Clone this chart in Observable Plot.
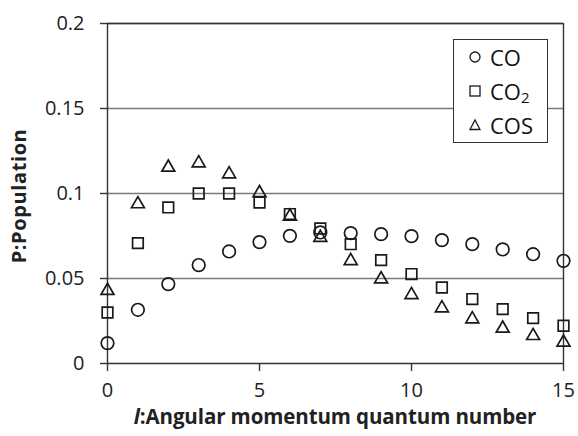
<!DOCTYPE html>
<html>
<head>
<meta charset="utf-8">
<script src="https://cdn.jsdelivr.net/npm/d3@7"></script>
<script src="https://cdn.jsdelivr.net/npm/@observablehq/plot@0.6"></script>
<style>
  html, body { margin: 0; padding: 0; background: #fff; }
  #wrap { position: relative; width: 578px; height: 436px; font-family: "Open Sans", Lato, sans-serif; }
  #legend {
    position: absolute; left: 453px; top: 39px; width: 95px; height: 104px;
    border: 1px solid #333; background: #fff; box-sizing: border-box;
    font-size: 22px; color: #111;
  }
  #legend .row { position: absolute; left: 0; height: 32px; display: flex; align-items: center; }
  #legend svg { margin-left: 14px; margin-right: 8px; }
  #legend sub { font-size: 15px; vertical-align: -3px; }
</style>
</head>
<body>
<div id="wrap"></div>
<script>
// Angular momentum quantum number l
const l = [0, 1, 2, 3, 4, 5, 6, 7, 8, 9, 10, 11, 12, 13, 14, 15];
// Rotational state populations
const co  = [0.012, 0.0316, 0.0467, 0.0579, 0.0659, 0.0714, 0.0751, 0.0771, 0.0767, 0.0761, 0.0749, 0.0726, 0.0702, 0.0671, 0.0643, 0.0604];
const co2 = [0.030, 0.0708, 0.0918, 0.100, 0.100, 0.0947, 0.0879, 0.0794, 0.0702, 0.0608, 0.0526, 0.0447, 0.0379, 0.032, 0.0267, 0.0222];
const cos = [0.0428, 0.0938, 0.1153, 0.1179, 0.1114, 0.1003, 0.0865, 0.0740, 0.0604, 0.0496, 0.0404, 0.0326, 0.0261, 0.0206, 0.0163, 0.0124];
const seriesNames = ["CO", "CO2", "COS"];
const xTicks = [0, 5, 10, 15];
const yTicks = [0, 0.05, 0.1, 0.15, 0.2];
const yTickLabels = ["0", "0.05", "0.1", "0.15", "0.2"];

const rows = (vals) => l.map((x, i) => ({l: x, p: vals[i]}));

const ink = "#1a1a1a";
const chart = Plot.plot({
  width: 578,
  height: 436,
  marginLeft: 107,
  marginRight: 15,
  marginTop: 23,
  marginBottom: 73,
  style: {fontFamily: "'Open Sans', Lato, sans-serif", fontSize: "20px", color: "#222", background: "#fff"},
  x: {domain: [0, 15], label: null},
  y: {domain: [0, 0.2], label: null},
  marks: [
    Plot.gridY(yTicks.slice(1), {stroke: "#7a7a7a", strokeOpacity: 1, strokeWidth: 1.3}),
    Plot.ruleX([15], {stroke: "#333", strokeWidth: 1.4}),
    Plot.ruleY([0.2], {stroke: "#333", strokeWidth: 1.4}),
    Plot.ruleX([0], {stroke: "#333", strokeWidth: 1.4}),
    Plot.ruleY([0], {stroke: "#333", strokeWidth: 1.4}),
    Plot.axisX({ticks: xTicks, tickSize: 8, tickPadding: 11, stroke: "#333", strokeWidth: 1.4, label: null}),
    Plot.axisY({ticks: yTicks, tickSize: 7, tickPadding: 16, stroke: "#333", strokeWidth: 1.4, label: null,
      tickFormat: (d) => yTickLabels[yTicks.indexOf(d)]}),
    Plot.dot(rows(co), {x: "l", y: "p", symbol: "circle", r: 6.3, stroke: ink, strokeWidth: 1.7, fill: "none"}),
    Plot.dot(rows(co2), {x: "l", y: "p", symbol: "square", r: 6.0, stroke: ink, strokeWidth: 1.7, fill: "none"}),
    Plot.dot(rows(cos), {x: "l", y: "p", symbol: "triangle", r: 4.8, stroke: ink, strokeWidth: 1.7, fill: "none"})
  ]
});

const wrap = document.getElementById("wrap");
wrap.appendChild(chart);

// Axis titles
const svg = d3.select(chart);
svg.append("text")
  .attr("transform", "translate(21,196) rotate(-90)")
  .attr("text-anchor", "middle")
  .attr("dominant-baseline", "middle")
  .attr("font-weight", "bold")
  .attr("font-size", 20)
  .attr("letter-spacing", "0.6")
  .attr("fill", "#222")
  .text("P:Population");
const xt = svg.append("text")
  .attr("x", 335).attr("y", 424)
  .attr("text-anchor", "middle")
  .attr("font-weight", "bold")
  .attr("font-size", 20.5)
  .attr("letter-spacing", "-0.1")
  .attr("fill", "#222");
xt.append("tspan").attr("font-style", "italic").text("l");
xt.append("tspan").text(":Angular momentum quantum number");

// Legend
const legend = document.createElement("div");
legend.id = "legend";
const shapes = {
  CO: '<circle cx="7" cy="7" r="5" fill="none" stroke="#1a1a1a" stroke-width="1.3"/>',
  CO2: '<rect x="2" y="2" width="10" height="10" fill="none" stroke="#1a1a1a" stroke-width="1.3"/>',
  COS: '<path d="M7 2 L12 11.5 L2 11.5 Z" fill="none" stroke="#1a1a1a" stroke-width="1.3"/>'
};
seriesNames.forEach((name, i) => {
  const row = document.createElement("div");
  row.className = "row";
  row.style.top = (1 + i * 34) + "px";
  const label = name === "CO2" ? "CO<sub>2</sub>" : name;
  row.innerHTML = `<svg width="14" height="14">${shapes[name]}</svg><span>${label}</span>`;
  legend.appendChild(row);
});
wrap.appendChild(legend);
</script>
</body>
</html>
